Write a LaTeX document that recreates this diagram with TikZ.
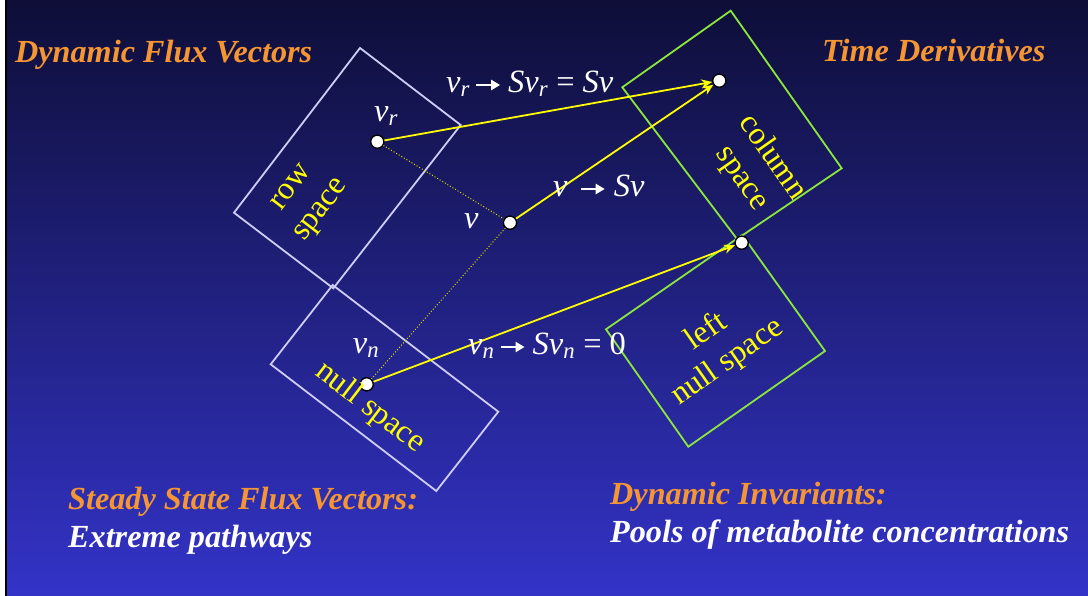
\documentclass[tikz,border=0pt]{standalone}
\usepackage{fontspec}
\setmainfont{Liberation Serif}
\usetikzlibrary{arrows.meta}
\definecolor{orng}{RGB}{245,150,50}
\definecolor{rowc}{RGB}{205,205,245}
\definecolor{grn}{RGB}{140,230,60}
\definecolor{ylw}{RGB}{255,255,0}
\definecolor{bgtop}{RGB}{14,14,56}
\definecolor{bgbot}{RGB}{51,51,200}
\newcommand\mv[1]{\textit{#1}}
\newcommand\sub[1]{\textsubscript{\textit{#1}}}
\newcommand\myarr{\tikz[x=1pt,y=1pt,baseline=-8pt]\draw[white,line width=2.2pt,-{Triangle[length=9pt,width=10pt]}] (0,0)--(24,0);}
\begin{document}
\begin{tikzpicture}[x=1pt,y=-1pt,
  rowbox/.style={draw=rowc,line width=1.8pt,line join=miter},
  grnbox/.style={draw=grn,line width=1.8pt,line join=miter},
  dot/.style={circle,fill=white,draw=black,line width=1.2pt,inner sep=0pt,minimum size=13pt},
  yarrow/.style={draw=ylw,line width=1.8pt,-{Stealth[length=11pt,width=9pt]}},
  dotline/.style={draw=ylw!85!black,line width=1pt,dotted},
  mathlbl/.style={text=white,font=\fontsize{32.5}{38}\selectfont,inner sep=0pt,anchor=base west},
  spacelbl/.style={text=ylw,font=\fontsize{32}{37}\selectfont,align=center,inner sep=0pt},
  title/.style={text=orng,font=\fontsize{32.2}{38}\selectfont\bfseries\itshape,inner sep=0pt,anchor=base west},
  subtitle/.style={text=white,font=\fontsize{32.2}{38}\selectfont\bfseries\itshape,inner sep=0pt,anchor=base west}]
\useasboundingbox (0,0) rectangle (1088,596);
\fill[white] (0,0) rectangle (1088,596);
\shade[top color=bgtop,bottom color=bgbot] (7,0) rectangle (1088,596);
\draw[black,line width=1.5pt] (6,0) -- (6,596);

% subspaces
\draw[rowbox] (360,48) -- (460.7,125) -- (333.3,288.3) -- (234,212.7) -- cycle;
\draw[rowbox] (332.7,285) -- (498.3,411.7) -- (436.3,491) -- (270.7,364.3) -- cycle;
\draw[grnbox] (730.7,10.7) -- (841.7,168.3) -- (737,239) -- (622.3,87.3) -- cycle;
\draw[grnbox] (742.3,235) -- (825,351) -- (688.3,446.7) -- (606,329.3) -- cycle;

% dots
\node[dot] (vr) at (377.3,141.7) {};
\node[dot] (v) at (510,222.7) {};
\node[dot] (vn) at (366.7,384.3) {};
\node[dot] (cs) at (719.3,80.7) {};
\node[dot] (lz) at (741.7,242.7) {};

\draw[dotline] (vr) -- (v);
\draw[dotline] (v) -- (vn);
\draw[yarrow] (vr) -- (cs);
\draw[yarrow] (v) -- (cs);
\draw[yarrow] (vn) -- (lz);
\node[dot] at (vr) {};
\node[dot] at (v) {};
\node[dot] at (vn) {};
\node[dot] at (cs) {};
\node[dot] at (lz) {};

% vector labels
\node[mathlbl] (lvr) at (374,122) {\mv{v}\sub{r}};
\node[mathlbl] (lv) at (464,229) {\mv{v}};
\node[mathlbl] (lvn) at (352.7,353.3) {\mv{v}\sub{n}};
\node[mathlbl] (m1) at (446,93) {\mv{v}\sub{r}\hspace{5pt}\myarr\hspace{7pt}\mv{Sv}\sub{r}\hspace{8pt}=\hspace{8pt}\mv{Sv}};
\node[mathlbl] (m2) at (553,197) {\mv{v}\hspace{12pt}\myarr\hspace{8pt}\mv{Sv}};
\node[mathlbl] (m3) at (468,355) {\mv{v}\sub{n}\hspace{5pt}\myarr\hspace{7pt}\mv{Sv}\sub{n}\hspace{8pt}=\hspace{8pt}0};

% space labels
\node[spacelbl,rotate=52.6] (rs) at (308,200) {row\\space};
\node[spacelbl,rotate=-37.4] (ns) at (370,408) {null space};
\node[spacelbl,rotate=-55] (cl) at (757,168) {column\\space};
\node[spacelbl,rotate=35] (ln) at (717,347) {left\\null space};

% titles
\node[title] (t1) at (15,63) {Dynamic Flux Vectors};
\node[title] (t2) at (822,62) {Time Derivatives};
\node[title] (t3) at (68,509) {Steady State Flux Vectors:};
\node[subtitle] (t4) at (68,547) {Extreme pathways};
\node[title] (t5) at (610,504) {Dynamic Invariants:};
\node[subtitle] (t6) at (610,542) {Pools of metabolite concentrations};
\end{tikzpicture}
\end{document}
